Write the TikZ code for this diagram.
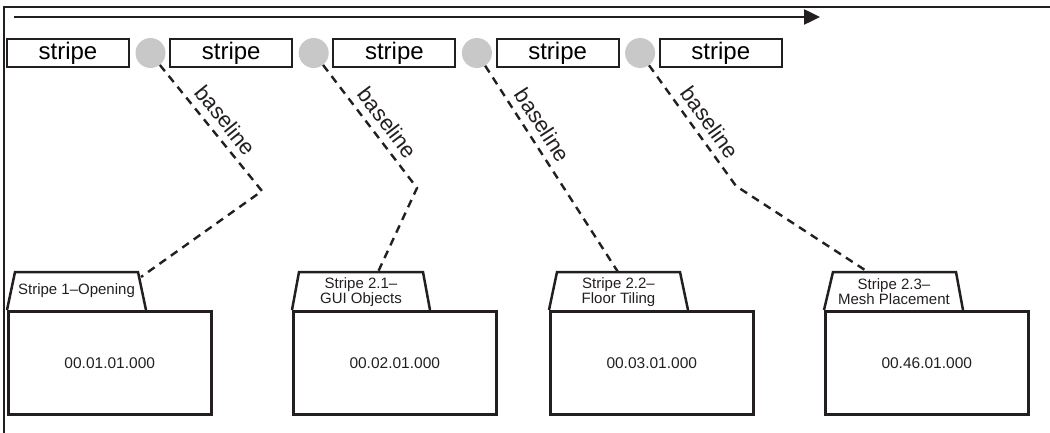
\documentclass[tikz,border=0pt]{standalone}
\usepackage{fontspec}
\setmainfont{Liberation Sans}
\usetikzlibrary{arrows.meta}
\definecolor{ink}{RGB}{35,31,32}
\definecolor{dotgray}{RGB}{200,200,200}
\begin{document}
\begin{tikzpicture}[x=1pt,y=-1pt,
  stripebox/.style={draw=ink,line width=2pt,minimum width=122pt,minimum height=28pt,inner sep=0pt,font=\fontsize{24}{26}\selectfont},
  dotnode/.style={circle,fill=dotgray,minimum size=30pt,inner sep=0pt},
  link/.style={draw=ink,line width=2.4pt,dash pattern=on 8pt off 6pt},
  lbl/.style={sloped,above=7pt,font=\fontsize{22}{24}\selectfont,inner sep=0pt,text=ink},
  tabshape/.style={draw=ink,line width=2.5pt,line join=miter},
  folderbox/.style={draw=ink,line width=2.5pt,minimum width=203pt,minimum height=103pt,anchor=north west,inner sep=0pt,font=\fontsize{15.5}{17}\selectfont,text=ink},
  tabtext/.style={align=center,font=\fontsize{15}{13.5}\selectfont,inner sep=0pt,text=ink},
  frameline/.style={draw=ink,line width=1.5pt}
]
\useasboundingbox (0,0) rectangle (1050,433);
% frame
\coordinate (fr1) at (4,433);
\coordinate (fr2) at (4,7);
\coordinate (fr3) at (1050,7);
\draw[frameline] (fr1) -- (fr2) -- (fr3);
% timeline arrow
\coordinate (arA) at (14,17);
\coordinate (arB) at (820,17);
\draw[draw=ink,line width=2.5pt,-{Triangle[length=16pt,width=15pt]}] (arA) -- (arB);
% stripes and dots
\node[stripebox] (s1) at (68,53.5) {stripe};
\node[stripebox] (s2) at (231.2,53.5) {stripe};
\node[stripebox] (s3) at (394.4,53.5) {stripe};
\node[stripebox] (s4) at (557.6,53.5) {stripe};
\node[stripebox] (s5) at (720.8,53.5) {stripe};
\node[dotnode] (c1) at (150.5,53) {};
\node[dotnode] (c2) at (313.7,53) {};
\node[dotnode] (c3) at (476.9,53) {};
\node[dotnode] (c4) at (640.1,53) {};
% folders
\draw[tabshape] (7,310) -- (15,272) -- (138,272) -- (146,310);
\node[tabtext] (t1) at (76.5,291) {Stripe 1–Opening};
\node[folderbox] (f1) at (7,310) {00.01.01.000};
\draw[tabshape] (292,310) -- (299,272) -- (423,272) -- (430,310);
\node[tabtext] (t2) at (361,292) {Stripe 2.1–\\GUI Objects};
\node[folderbox] (f2) at (292,310) {00.02.01.000};
\draw[tabshape] (549,310) -- (557,272) -- (680,272) -- (688,310);
\node[tabtext] (t3) at (618.5,292) {Stripe 2.2–\\Floor Tiling};
\node[folderbox] (f3) at (549,310) {00.03.01.000};
\draw[tabshape] (824,310) -- (833,272) -- (956,272) -- (963,310);
\node[tabtext] (t4) at (894,292) {Stripe 2.3–\\Mesh Placement};
\node[folderbox] (f4) at (824,310) {00.46.01.000};
% baseline connectors
\coordinate (b1) at (262,191);
\coordinate (e1) at (141,277);
\coordinate (b2) at (417,188);
\coordinate (e2) at (378,272);
\coordinate (e3) at (618,272);
\coordinate (b4) at (736,186);
\coordinate (e4) at (868,272);
\draw[link] (c1.-52) -- node[lbl,pos=0.52]{baseline} (b1) -- (e1);
\draw[link] (c2.-52) -- node[lbl,pos=0.55]{baseline} (b2) -- (e2);
\draw[link] (c3.-57) -- node[lbl,pos=0.33]{baseline} (e3);
\draw[link] (c4.-54) -- node[lbl,pos=0.55]{baseline} (b4) -- (e4);
\end{tikzpicture}
\end{document}
